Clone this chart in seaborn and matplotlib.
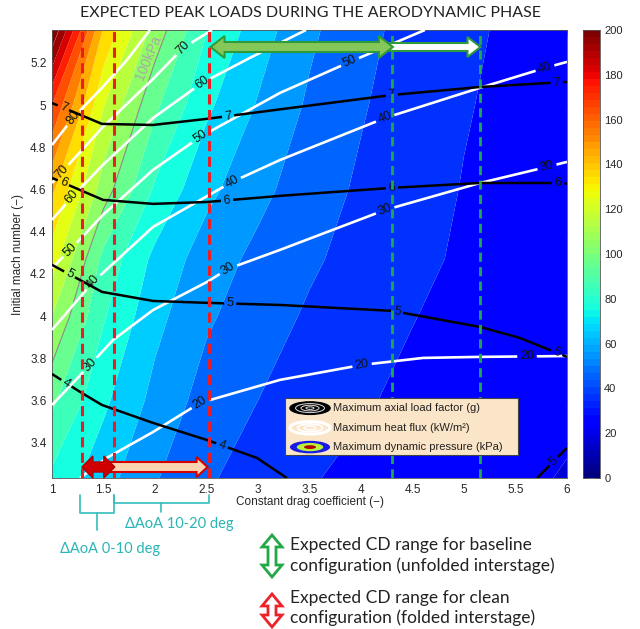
import numpy as np
import matplotlib
matplotlib.use("Agg")
import matplotlib.pyplot as plt
import seaborn as sns
from matplotlib.colors import ListedColormap, Normalize
from matplotlib.patches import Polygon, Rectangle, Ellipse
from matplotlib.lines import Line2D
from matplotlib.ticker import FuncFormatter
import matplotlib.cm as cm

sns.set_theme(style="white")
plt.rcParams['font.family'] = ['Liberation Sans', 'DejaVu Sans']

# ---------------- data ----------------
cd_grid = [1.0, 1.5, 2.0, 2.5, 3.0, 3.5, 4.0, 4.5, 5.0, 5.5, 6.0]
mach_grid = [3.21, 3.6, 4.0, 4.27, 4.6, 5.0, 5.36]
q_kpa = [
    [77, 63.5, 50.5, 41, 35.5, 30.5, 27.5, 25.5, 23.5, 21, 19.5],
    [92, 72, 57, 46, 40, 34.5, 31, 28, 25.5, 23, 21.2],
    [110, 81, 63, 51.5, 44.5, 38.7, 34.2, 30.3, 27.5, 25, 22.9],
    [125, 87, 67.5, 55, 47.5, 41.5, 36.5, 32, 28.8, 26.3, 24],
    [142, 105, 78.5, 62.7, 52.8, 44.7, 38.5, 33.4, 29.6, 27, 24.6],
    [170, 120.5, 92, 72, 59.2, 48.5, 40.9, 35, 30.6, 27.8, 25.3],
    [210, 139, 106, 80.5, 65, 52, 43, 36.5, 31.5, 28.5, 26],
]
q_levels = list(range(0, 230, 10))

# load factor contours (g)
n7_cd = [1.0, 1.485, 1.981, 2.505, 3.214, 4.301, 5.155, 6.0]
n7_m = [5.010, 4.911, 4.906, 4.935, 4.980, 5.048, 5.086, 5.110]
n6_cd = [1.0, 1.495, 1.981, 2.505, 3.214, 4.301, 5.155, 6.0]
n6_m = [4.655, 4.551, 4.532, 4.541, 4.570, 4.608, 4.631, 4.631]
n5_cd = [1.0, 1.485, 1.981, 2.505, 3.214, 4.301, 5.155, 5.54, 6.0]
n5_m = [4.243, 4.115, 4.072, 4.063, 4.053, 4.025, 3.949, 3.897, 3.807]
n4_cd = [1.0, 1.272, 1.485, 1.981, 2.505, 2.99, 3.28]
n4_m = [3.726, 3.641, 3.579, 3.494, 3.413, 3.328, 3.233]
n5b_cd = [5.71, 6.0]
n5b_m = [3.233, 3.376]

# heat flux contours (kW/m2)
h80_cd = [1.0, 1.204, 1.485, 1.728, 1.951]
h80_m = [4.811, 4.939, 5.082, 5.214, 5.356]
h70_cd = [1.0, 1.097, 1.495, 1.981, 2.272, 2.553]
h70_m = [4.631, 4.683, 4.897, 5.124, 5.271, 5.356]
h60_cd = [1.0, 1.194, 1.495, 1.981, 2.456, 2.922, 3.466]
h60_m = [4.456, 4.565, 4.717, 4.939, 5.105, 5.224, 5.356]
h50_cd = [1.0, 1.175, 1.495, 1.981, 2.437, 3.214, 3.893, 4.62]
h50_m = [4.228, 4.314, 4.480, 4.693, 4.849, 5.058, 5.205, 5.356]
h40_cd = [1.0, 1.398, 1.981, 2.748, 3.214, 4.233, 5.155, 5.786, 6.0]
h40_m = [3.935, 4.162, 4.423, 4.636, 4.740, 4.939, 5.082, 5.176, 5.205]
h30_cd = [1.0, 1.369, 1.592, 1.981, 2.505, 2.709, 3.214, 4.233, 5.155, 5.806, 6.0]
h30_m = [3.579, 3.769, 3.887, 4.029, 4.162, 4.224, 4.314, 4.503, 4.631, 4.707, 4.731]
h20_cd = [1.272, 1.534, 1.981, 2.437, 3.214, 4.010, 4.602, 5.155, 6.0]
h20_m = [3.233, 3.329, 3.451, 3.589, 3.698, 3.769, 3.802, 3.807, 3.811]

# CD ranges
cd_clean = [1.29, 1.60, 2.52]
cd_base = [2.52, 4.30, 5.16]

x_ticks = [1, 1.5, 2, 2.5, 3, 3.5, 4, 4.5, 5, 5.5, 6]
y_ticks = [3.4, 3.6, 3.8, 4.0, 4.2, 4.4, 4.6, 4.8, 5.0, 5.2]
cb_ticks = list(range(0, 201, 20))

W, H = 640, 629
fig = plt.figure(figsize=(W / 100, H / 100), dpi=100)
fig.patch.set_facecolor('white')
ax = fig.add_axes([52 / W, 1 - 478 / H, 515 / W, 448 / H])
ax.set_xlim(1, 6)
ax.set_ylim(3.233, 5.356)

jet = plt.get_cmap('jet')
ax.contourf(cd_grid, mach_grid, np.array(q_kpa), levels=q_levels, cmap=jet,
            norm=Normalize(0, 200), antialiased=True, zorder=1)
ax.contour(cd_grid, mach_grid, np.array(q_kpa), levels=[100], colors='#8a8a8a',
           linewidths=0.8, zorder=2)
ax.text(1.94, 5.225, "100kPa", rotation=67, rotation_mode='anchor', ha='center',
        va='center', fontsize=10, color='#a8a8a8', zorder=3)

def draw_labeled(xs, ys, color, lw, text, label_xs, fs=9, zorder=4):
    xs = np.asarray(xs, float)
    ys = np.asarray(ys, float)
    P = ax.transData.transform(np.column_stack([xs, ys]))
    seg = np.hypot(np.diff(P[:, 0]), np.diff(P[:, 1]))
    s = np.concatenate([[0], np.cumsum(seg)])
    gaps = []
    for lx in label_xs:
        sl = np.interp(lx, xs, s)
        ly = np.interp(lx, xs, ys)
        i = min(max(np.searchsorted(xs, lx) - 1, 0), len(xs) - 2)
        dx, dy = P[i + 1] - P[i]
        ang = np.degrees(np.arctan2(dy, dx))
        if ang > 90:
            ang -= 180
        if ang < -90:
            ang += 180
        half = 0.5 * len(text) * fs * 0.58 * fig.dpi / 72 + 2.5
        gaps.append((sl - half, sl + half))
        ax.text(lx, ly, text, rotation=ang, rotation_mode='anchor', ha='center',
                va='center', fontsize=fs, color='#111111', zorder=zorder + 1)
    gaps.sort()
    pieces = []
    start = 0.0
    for a, b in gaps:
        if a > start:
            pieces.append((start, a))
        start = max(start, b)
    if start < s[-1]:
        pieces.append((start, s[-1]))
    inv = ax.transData.inverted()
    for a, b in pieces:
        inner = s[(s > a) & (s < b)]
        ss = np.concatenate([[a], inner, [b]])
        px = np.interp(ss, s, P[:, 0])
        py = np.interp(ss, s, P[:, 1])
        D = inv.transform(np.column_stack([px, py]))
        ax.plot(D[:, 0], D[:, 1], color=color, lw=lw, solid_capstyle='butt',
                zorder=zorder)

# heat flux (white)
draw_labeled(h80_cd, h80_m, 'white', 1.9, '80', [1.204])
draw_labeled(h70_cd, h70_m, 'white', 1.9, '70', [1.097, 2.272])
draw_labeled(h60_cd, h60_m, 'white', 1.9, '60', [1.194, 2.456])
draw_labeled(h50_cd, h50_m, 'white', 1.9, '50', [1.175, 2.437, 3.893])
draw_labeled(h40_cd, h40_m, 'white', 1.9, '40', [1.398, 2.748, 4.233, 5.786])
draw_labeled(h30_cd, h30_m, 'white', 1.9, '30', [1.369, 2.709, 4.233, 5.806])
draw_labeled(h20_cd, h20_m, 'white', 1.9, '20', [2.437, 4.010, 5.612])
# load factor (black)
draw_labeled(n7_cd, n7_m, 'black', 1.8, '7', [1.11, 2.71, 4.30, 5.9], zorder=6)
draw_labeled(n6_cd, n6_m, 'black', 1.8, '6', [1.11, 2.70, 4.30, 5.91], zorder=6)
draw_labeled(n5_cd, n5_m, 'black', 1.8, '5', [1.17, 2.73, 4.35, 5.9], zorder=6)
draw_labeled(n4_cd, n4_m, 'black', 1.8, '4', [1.14, 2.65], zorder=6)
draw_labeled(n5b_cd, n5b_m, 'black', 1.8, '5', [5.87], zorder=6)

# dashed CD limits
for x in cd_clean:
    ax.axvline(x, color='#ec1c24', lw=2.2, ls=(0, (3.3, 1.8)), zorder=8)
for x in cd_base[1:]:
    ax.axvline(x, color='#1faa4a', lw=2.0, ls=(0, (3.3, 1.9)), zorder=8)

ax.set_xticks(x_ticks)
ax.set_yticks(y_ticks)
ax.xaxis.set_major_formatter(FuncFormatter(lambda v, p: f"{v:g}"))
ax.yaxis.set_major_formatter(FuncFormatter(lambda v, p: f"{v:g}"))
ax.tick_params(direction='in', length=4, width=0.6, top=True, right=True,
               labelsize=8.5, pad=4, colors='#262626')
for sp in ax.spines.values():
    sp.set_color('#555555')
    sp.set_linewidth(0.6)
ax.set_xlabel("Constant drag coefficient (\u2212)", fontsize=8.5, labelpad=0, color='#262626')
ax.set_ylabel("Initial mach number (\u2212)", fontsize=8.5, labelpad=4, color='#262626')

# legend box
ax.add_patch(Rectangle((0.452, 0.051), 0.453, 0.128, transform=ax.transAxes,
                       facecolor='#fbe5c8', edgecolor='#444444', lw=0.8, zorder=10))
ex, ew, eh = 0.501, 0.078, 0.028
rows = [0.156, 0.112, 0.069]
texts = ["Maximum axial load factor (g)", "Maximum heat flux (kW/m\u00b2)",
         "Maximum dynamic pressure (kPa)"]
ax.add_patch(Ellipse((ex, rows[0]), ew, eh, transform=ax.transAxes, fc='black', ec='black', zorder=11))
for f in (0.72, 0.45, 0.2):
    ax.add_patch(Ellipse((ex, rows[0]), ew * f, eh * f, transform=ax.transAxes,
                         fc='none', ec='#dddddd', lw=0.7, zorder=12))
for f, l in ((1.0, 2.2), (0.62, 1.2), (0.3, 1.0)):
    ax.add_patch(Ellipse((ex, rows[1]), ew * f, eh * f, transform=ax.transAxes,
                         fc='none', ec='white', lw=l, zorder=11))
for f, c in ((1.0, '#1a1ae6'), (0.66, '#b8f03a'), (0.3, '#b00000')):
    ax.add_patch(Ellipse((ex, rows[2]), ew * f, eh * f, transform=ax.transAxes,
                         fc=c, ec='none', zorder=11))
for yv, t in zip(rows, texts):
    ax.text(0.546, yv, t, transform=ax.transAxes, fontsize=8, va='center',
            color='#222222', zorder=12)

# colorbar
cax = fig.add_axes([583 / W, 1 - 478 / H, 17 / W, 448 / H])
sm = cm.ScalarMappable(norm=Normalize(0, 200), cmap=ListedColormap(jet(np.linspace(0, 1, 64))))
cb = fig.colorbar(sm, cax=cax, ticks=cb_ticks)
cb.ax.tick_params(direction='in', length=3, width=0.6, labelsize=8, left=True,
                  right=True, colors='#262626', pad=3)
cb.outline.set_linewidth(0.6)
cb.outline.set_edgecolor('#555555')

# ---------- arrows and annotations (pixel helpers) ----------
def to_fig(pts):
    return [(x / W, 1 - y / H) for x, y in pts]

def px_of(cd):
    return ax.transData.transform((cd, 4.0))[0]

def harrow(x0, x1, yc, L, h, b, double=True):
    if double:
        return [(x0, yc), (x0 + L, yc - h), (x0 + L, yc - b), (x1 - L, yc - b),
                (x1 - L, yc - h), (x1, yc), (x1 - L, yc + h), (x1 - L, yc + b),
                (x0 + L, yc + b), (x0 + L, yc + h)]
    return [(x0, yc - b), (x1 - L, yc - b), (x1 - L, yc - h), (x1, yc),
            (x1 - L, yc + h), (x1 - L, yc + b), (x0, yc + b)]

def varrow(xc, y0, y1, L, h, b):
    return [(y, x) for x, y in harrow(y0, y1, xc, L, h, b)]

def add_poly(pts, fc, ec, lw, z=20):
    fig.add_artist(Polygon(to_fig(pts), closed=True, fc=fc, ec=ec, lw=lw,
                           transform=fig.transFigure, zorder=z, joinstyle='miter'))

c0, c1, c2 = [px_of(v) for v in cd_clean]
b1, b2 = px_of(cd_base[1]), px_of(cd_base[2])
# bottom red arrows
add_poly(harrow(c1 - 4, c2 - 1, 467, 11, 10, 5, double=False), '#fcd3b0', '#d40000', 1.5)
add_poly(harrow(c0, c1 + 1, 467, 11, 11, 5), '#d00000', '#b00000', 1.0, z=21)
# top green arrows
add_poly(harrow(b1 - 2, b2, 47, 13, 10, 4, double=False), 'white', '#2f9a3a', 1.5)
add_poly(harrow(c2 + 2, b1 + 1, 47, 14, 11, 5), '#86c75a', '#2f9a3a', 1.5, z=21)

# bottom legend arrows (vertical hollow)
add_poly(varrow(272, 535, 577, 12, 10, 4), 'white', '#22a846', 2.0)
add_poly(varrow(272, 594, 627, 12, 10, 4), 'white', '#ec2228', 2.0)

teal = '#34bcbc'
def fline(xs, ys):
    fig.add_artist(Line2D([x / W for x in xs], [1 - y / H for y in ys], color=teal,
                          lw=1.2, transform=fig.transFigure))

fline([c0 - 2, c0 - 2, c1, c1], [495, 513, 513, 495])
fline([(c0 - 2 + c1) / 2] * 2, [513, 530])
fline([c1, c1, c2, c2], [495, 503, 503, 495])
fline([(c1 + c2) / 2] * 2, [503, 512])

lato = ['Lato', 'DejaVu Sans']
fig.text(125 / W, 1 - 524 / H, "\u0394AoA 10-20 deg", fontsize=10.5, color='#2bb5b5',
         family=lato, va='center', ha='left')
fig.text(60 / W, 1 - 549 / H, "\u0394AoA 0-10 deg", fontsize=10.5, color='#2bb5b5',
         family=lato, va='center', ha='left')

for txt, yy in (("Expected CD range for baseline", 545),
                ("configuration (unfolded interstage)", 566),
                ("Expected CD range for clean", 598),
                ("configuration (folded interstage)", 618)):
    fig.text(290 / W, 1 - yy / H, txt, fontsize=12.5, color='#222222',
             family=lato, va='center')

fig.text(310 / W, 1 - 13 / H, "EXPECTED PEAK LOADS DURING THE AERODYNAMIC PHASE",
         fontsize=11.5, color='#222222', family=lato, ha='center', va='center')

fig.savefig("out.png", dpi=100, facecolor='white')
